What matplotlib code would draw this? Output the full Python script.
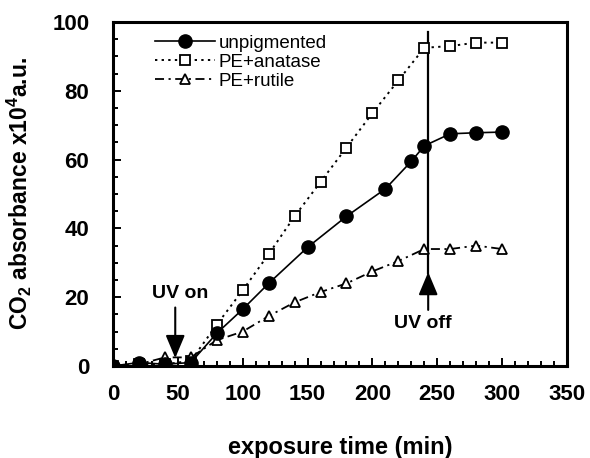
import matplotlib
matplotlib.use("Agg")
import matplotlib.pyplot as plt
from matplotlib.ticker import MultipleLocator

plt.rcParams["font.family"] = ["Liberation Sans", "DejaVu Sans"]
plt.rcParams["mathtext.fontset"] = "custom"
plt.rcParams["mathtext.rm"] = "Liberation Sans:bold"
plt.rcParams["mathtext.default"] = "rm"

# exposure time (min)
t_unpig = [0, 20, 40, 60, 80, 100, 120, 150, 180, 210, 230, 240, 260, 280, 300]
y_unpig = [0, 1, 0.5, 1, 9.5, 16.5, 24, 34.5, 43.5, 51.5, 59.5, 64, 67.5, 67.8, 68]

t_pig = [0, 20, 40, 60, 80, 100, 120, 140, 160, 180, 200, 220, 240, 260, 280, 300]
y_anatase = [0, 0.5, 0.5, 1.5, 12, 22, 32.5, 43.5, 53.5, 63.5, 73.5, 83, 92.5, 93, 94, 94]
y_rutile = [0, 0.5, 2.5, 2.5, 7.5, 10, 14.5, 18.5, 21.5, 24, 27.5, 30.5, 34, 34, 35, 34]

labels = ["unpigmented", "PE+anatase", "PE+rutile"]
uv_on_t = 48
uv_off_t = 243

fig = plt.figure(figsize=(5.9, 4.58), dpi=100)
ax = fig.add_axes([0.1915, 0.2009, 0.7695, 0.7511])

ax.plot(t_unpig, y_unpig, color="black", lw=1.2, ls="-", marker="o",
        ms=9.5, mfc="black", mec="black", label=labels[0], zorder=4)
ax.plot(t_pig, y_anatase, color="black", lw=1.4, ls=(0, (1.2, 2.2)), marker="s",
        ms=7, mfc="white", mec="black", mew=1.3, label=labels[1], zorder=3)
ax.plot(t_pig, y_rutile, color="black", lw=1.3, ls=(0, (5, 2.5, 1.2, 2.5)), marker="^",
        ms=7.5, mfc="white", mec="black", mew=1.3, label=labels[2], zorder=3)

# UV off marker line
ax.plot([uv_off_t, uv_off_t], [27, 97], color="black", lw=1.6, zorder=2)

arrow = dict(arrowstyle="-|>,head_width=0.42,head_length=1.0", color="black",
             lw=1.5, shrinkA=0, shrinkB=0, mutation_scale=14)
ax.annotate("", xy=(uv_on_t, 2.3), xytext=(uv_on_t, 17), arrowprops=arrow)
ax.text(52, 21, "UV on", ha="center", va="center", fontsize=14, fontweight="bold")
ax.annotate("", xy=(uv_off_t, 27.3), xytext=(uv_off_t, 16.3), arrowprops=arrow)
ax.text(239, 12.3, "UV off", ha="center", va="center", fontsize=14, fontweight="bold")

ax.set_xlim(0, 350)
ax.set_ylim(0, 100)
ax.xaxis.set_major_locator(MultipleLocator(50))
ax.xaxis.set_minor_locator(MultipleLocator(10))
ax.yaxis.set_major_locator(MultipleLocator(20))
ax.yaxis.set_minor_locator(MultipleLocator(5))
ax.tick_params(which="both", direction="in", width=1.4, top=False, right=False)
ax.tick_params(which="major", length=6)
ax.tick_params(which="minor", length=3.5)
ax.tick_params(axis="x", which="major", pad=13, labelsize=16)
ax.tick_params(axis="y", which="major", pad=17, labelsize=16)
for lab in ax.get_xticklabels() + ax.get_yticklabels():
    lab.set_fontweight("bold")
for sp in ax.spines.values():
    sp.set_linewidth(2.2)

ax.set_xlabel("exposure time (min)", fontsize=17, fontweight="bold", labelpad=22)
ax.set_ylabel("CO$_2$ absorbance x10$^4$a.u.", fontsize=16.5, fontweight="bold", labelpad=13)

ax.legend(loc="upper left", bbox_to_anchor=(0.075, 0.985), frameon=False, fontsize=13.5,
          handlelength=3.2, handletextpad=0.2, labelspacing=0.1, borderaxespad=0)

fig.savefig("out.png", dpi=100)
